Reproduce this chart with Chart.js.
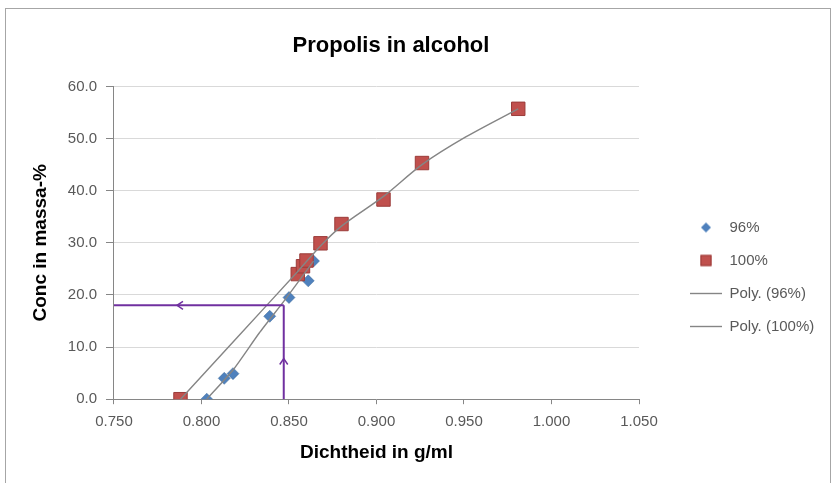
<!DOCTYPE html>
<html>
<head>
<meta charset="utf-8">
<script src="https://cdn.jsdelivr.net/npm/chart.js@4.4.0/dist/chart.umd.min.js"></script>
<style>
  html, body { margin: 0; padding: 0; background: #fff; }
  #frame { position: absolute; left: 5px; top: 8px; width: 826px; height: 480px; border: 1px solid #a6a6a6; box-sizing: border-box; }
  #wrap { position: absolute; left: 0; top: 0; width: 833px; height: 483px; }
</style>
</head>
<body>
<div id="frame"></div>
<div id="wrap"><canvas id="chart"></canvas></div>
<script>
/* ================= DATA ================= */

const density96 = [0.803, 0.813, 0.818, 0.839, 0.850, 0.861, 0.864];
const conc96 = [0.0, 4.0, 4.9, 15.9, 19.5, 22.7, 26.5];

const density100 = [0.788, 0.855, 0.858, 0.860, 0.868, 0.880, 0.904, 0.926, 0.981];
const conc100 = [0.0, 24.0, 25.5, 26.6, 29.9, 33.6, 38.3, 45.3, 55.7];

// trendlines
const trend96X = [0.803, 0.818, 0.833, 0.848, 0.864];
const trend96Y = [0.0, 5.6, 12.7, 19.2, 26.5];
const trend100X = [0.788, 0.820, 0.855, 0.868, 0.880, 0.904, 0.926, 0.951, 0.981];
const trend100Y = [0.0, 11.7, 24.5, 29.4, 33.2, 38.9, 45.0, 50.3, 55.7];

const xTicks = [0.750, 0.800, 0.850, 0.900, 0.950, 1.000, 1.050];
const yTicks = [0, 10, 20, 30, 40, 50, 60];

// reading line: density -> concentration
const readDensity = 0.847;
const readConc = 18.0;
const arrowLeftAt = 0.786;
const arrowUpAt = 7.8;

const seriesNames = ["96%", "100%", "Poly. (96%)", "Poly. (100%)"];

/* ================= HELPERS ================= */

const toPoints = (xs, ys) => xs.map((x, i) => ({ x: x, y: ys[i] }));

const purple = "#7030a0";
const grey = "#595959";
const font = "Liberation Sans";

function markerCanvas(kind) {
    const c = document.createElement("canvas");
    c.width = 14; c.height = 14;
    const g = c.getContext("2d");
    if (kind === "diamond") {
        g.fillStyle = "#4f81bd";
        g.beginPath();
        g.moveTo(7, 2); g.lineTo(12, 7); g.lineTo(7, 12); g.lineTo(2, 7);
        g.closePath();
        g.fill();
    } else {
        g.fillStyle = "#c0504d";
        g.strokeStyle = "#9b3c3a";
        g.fillRect(1.5, 1.5, 11, 11);
        g.strokeRect(2, 2, 10, 10);
    }
    return c;
}
const legendMarkers = [markerCanvas("diamond"), markerCanvas("square")];

const legendBoxWidth = 121;
const legendItemsLeft = 690;
const legendItemsTop = 220;

const legendPlace = {
    id: "legendPlace",
    beforeInit(chart) {
        const fit = chart.legend.fit;
        chart.legend.fit = function () {
            fit.bind(chart.legend)();
            this.width = legendBoxWidth;
        };
    },
    afterLayout(chart) {
        const l = chart.legend;
        const pad = l.options.labels.padding;
        l.left = legendItemsLeft - pad;
        l.width = 833 - l.left;
        l.right = l.left + l.width;
        l.top = legendItemsTop - pad;
        l.bottom = l.top + l.height;
    }
};

const arrowHeads = {
    id: "arrowHeads",
    afterDatasetsDraw(chart) {
        const { ctx, scales: { x, y } } = chart;
        ctx.save();
        ctx.strokeStyle = purple;
        ctx.lineWidth = 1.5;
        let px = x.getPixelForValue(arrowLeftAt);
        let py = y.getPixelForValue(readConc);
        ctx.beginPath();
        ctx.moveTo(px + 6, py - 4); ctx.lineTo(px, py); ctx.lineTo(px + 6, py + 4);
        ctx.stroke();
        px = x.getPixelForValue(readDensity);
        py = y.getPixelForValue(arrowUpAt);
        ctx.beginPath();
        ctx.moveTo(px - 4, py + 6); ctx.lineTo(px, py); ctx.lineTo(px + 4, py + 6);
        ctx.stroke();
        ctx.restore();
    }
};

/* ================= CHART ================= */

const ctx = document.getElementById("chart").getContext("2d");

new Chart(ctx, {
    type: "scatter",
    data: {
        datasets: [{
            label: seriesNames[0],
            data: toPoints(density96, conc96),
            pointStyle: "rectRot",
            pointRadius: 6,
            backgroundColor: "#4f81bd",
            borderColor: "#3a6797",
            borderWidth: 0.5,
            order: 6
        }, {
            label: seriesNames[1],
            data: toPoints(density100, conc100),
            pointStyle: "rect",
            pointRadius: 9.5,
            backgroundColor: "#c0504d",
            borderColor: "#9b3c3a",
            borderWidth: 1,
            order: 5
        }, {
            label: seriesNames[2],
            data: toPoints(trend96X, trend96Y),
            showLine: true,
            tension: 0.2,
            pointRadius: 0,
            pointStyle: "line",
            borderColor: "#858585",
            backgroundColor: "#858585",
            borderWidth: 1.4,
            order: 4
        }, {
            label: seriesNames[3],
            data: toPoints(trend100X, trend100Y),
            showLine: true,
            tension: 0.3,
            pointRadius: 0,
            pointStyle: "line",
            borderColor: "#858585",
            backgroundColor: "#858585",
            borderWidth: 1.4,
            order: 3
        }, {
            label: "read-h",
            data: [{ x: readDensity, y: readConc }, { x: xTicks[0], y: readConc }],
            showLine: true,
            pointRadius: 0,
            borderColor: purple,
            borderWidth: 2,
            order: 1
        }, {
            label: "read-v",
            data: [{ x: readDensity, y: 0 }, { x: readDensity, y: readConc }],
            showLine: true,
            pointRadius: 0,
            borderColor: purple,
            borderWidth: 2,
            order: 2
        }]
    },
    options: {
        responsive: true,
        maintainAspectRatio: false,
        animation: false,
        layout: { padding: { left: 22, right: 73, top: 0, bottom: 8 } },
        plugins: {
            title: {
                display: true,
                text: "Propolis in alcohol",
                color: "#000",
                font: { family: font, size: 22, weight: "bold" },
                padding: { top: 33, bottom: 27 }
            },
            legend: {
                position: "right",
                align: "start",
                labels: {
                    usePointStyle: true,
                    pointStyleWidth: 32,
                    padding: 18,
                    color: grey,
                    font: { family: font, size: 15 },
                    filter: item => item.datasetIndex < 4,
                    sort: (a, b) => a.datasetIndex - b.datasetIndex,
                    generateLabels(chart) {
                        const items = Chart.defaults.plugins.legend.labels.generateLabels(chart);
                        items.forEach(it => {
                            if (legendMarkers[it.datasetIndex]) it.pointStyle = legendMarkers[it.datasetIndex];
                        });
                        return items;
                    }
                }
            },
            tooltip: { enabled: false }
        },
        scales: {
            x: {
                type: "linear",
                min: xTicks[0],
                max: xTicks[xTicks.length - 1],
                afterBuildTicks: s => { s.ticks = xTicks.map(v => ({ value: v })); },
                ticks: {
                    color: grey,
                    padding: 9,
                    font: { family: font, size: 15 },
                    callback: v => v.toFixed(3)
                },
                grid: { drawOnChartArea: false, tickLength: 5, color: "#868686" },
                border: { color: "#868686" },
                title: {
                    display: true,
                    text: "Dichtheid in g/ml",
                    color: "#000",
                    font: { family: font, size: 19, weight: "bold" },
                    padding: { top: 1, bottom: 11 }
                }
            },
            y: {
                type: "linear",
                min: yTicks[0],
                max: yTicks[yTicks.length - 1],
                afterBuildTicks: s => { s.ticks = yTicks.map(v => ({ value: v })); },
                ticks: {
                    color: grey,
                    padding: 9,
                    font: { family: font, size: 15 },
                    callback: v => v.toFixed(1)
                },
                grid: { color: "#d9d9d9", tickColor: "#868686", tickLength: 8 },
                border: { color: "#868686" },
                title: {
                    display: true,
                    text: "Conc in massa-%",
                    color: "#000",
                    font: { family: font, size: 19, weight: "bold" },
                    padding: { top: 7, bottom: 7 }
                }
            }
        }
    },
    plugins: [legendPlace, arrowHeads]
});
</script>
</body>
</html>
